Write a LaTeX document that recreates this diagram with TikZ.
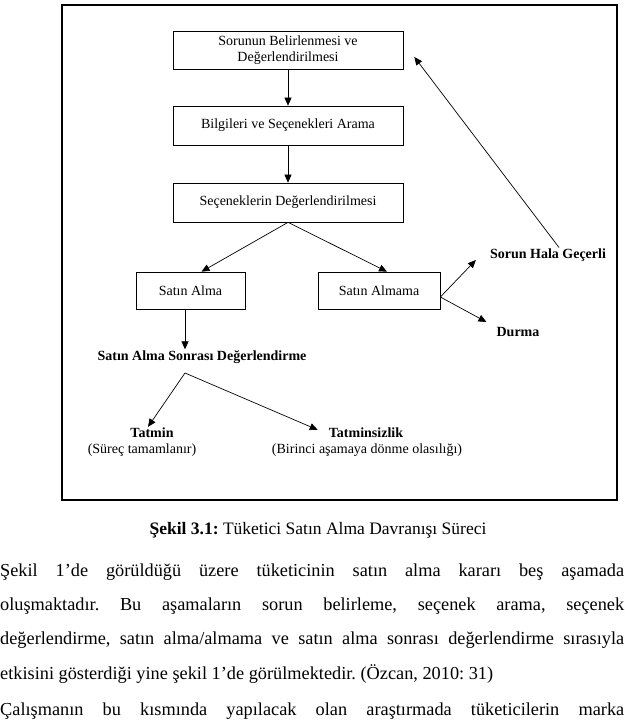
\documentclass[tikz,border=0pt]{standalone}
\usepackage{fontspec}
\setmainfont{Liberation Serif}
\frenchspacing
\usetikzlibrary{arrows.meta,calc}
\tikzset{
	kutu/.style={draw, line width=0.7pt, align=center, inner sep=0pt, font=\fontsize{14}{16}\selectfont},
	etiket/.style={font=\bfseries\fontsize{14}{16}\selectfont, inner sep=1pt},
	aciklama/.style={font=\fontsize{14}{16}\selectfont, inner sep=1pt},
	ok/.style={line width=0.7pt, -{Triangle[length=8pt,width=7pt]}},
	satir/.style={anchor=west, inner sep=0pt, font=\fontsize{18.3}{22}\selectfont}
}

\begin{document}
\begin{tikzpicture}[x=1pt,y=-1pt]
			%%%%% START %%%%%
			\useasboundingbox (0,0) rectangle (624,722);
			
			\draw[line width=1.3pt] (62,5) rectangle (617,500);
			
			\node[kutu, minimum width=230pt, minimum height=38pt] (sorun) at (288,50) {Sorunun Belirlenmesi ve\\Değerlendirilmesi};
			\node[kutu, minimum width=230pt, minimum height=39pt] (bilgi) at (288,125.5) {Bilgileri ve Seçenekleri Arama};
			\node[kutu, minimum width=230pt, minimum height=39pt] (deger) at (288,202.5) {Seçeneklerin Değerlendirilmesi};
			
			\node[kutu, minimum width=109pt, minimum height=37pt] (alma) at (190.5,290.5) {Satın Alma};
			\node[kutu, minimum width=122pt, minimum height=37pt] (almama) at (379,290.5) {Satın Almama};
			
			\node[etiket] (hala) at (548,255) {Sorun Hala Geçerli};
			\node[etiket] (durma) at (518,332) {Durma};
			\node[etiket] (sonra) at (202,357) {Satın Alma Sonrası Değerlendirme};
			\coordinate (ayrim) at (185,373);
			
			\node[etiket] (tatmin) at (152,433) {Tatmin};
			\node[aciklama] (surec) at (142,450) {(Süreç tamamlanır)};
			\node[etiket] (tatminsiz) at (366,433) {Tatminsizlik};
			\node[aciklama] (donme) at (367,450) {(Birinci aşamaya dönme olasılığı)};
			
			\draw[ok] (sorun) -- (bilgi);
			\draw[ok] (bilgi) -- (deger);
			\draw[ok] (deger.south) -- ([xshift=11pt]alma.north);
			\draw[ok] (deger.south) -- ([xshift=8pt]almama.north);
			\draw[ok] ([xshift=-5.5pt]alma.south) -- ([xshift=-17pt]sonra.north);
			\draw[ok] ([yshift=-6.5pt]almama.east) -- ([xshift=-13pt,yshift=-5pt]hala.west);
			\draw[ok] ([yshift=-6.5pt]almama.east) -- ([xshift=-9pt,yshift=10pt]durma.west);
			\draw[ok] ([xshift=11pt]hala.north) -- ([xshift=11pt,yshift=-7pt]sorun.east);
			\draw[ok] (ayrim) -- ([xshift=-4pt]tatmin.north);
			\draw[ok] (ayrim) -- ([xshift=-10pt,yshift=-3pt]tatminsiz.north west);
			
			\node[font=\fontsize{17.5}{20}\selectfont, inner sep=0pt] (sekil) at (318,530) {\textbf{Şekil 3.1:} Tüketici Satın Alma Davranışı Süreci};
			
			\node[satir] (satir1) at (0,572) {\makebox[624pt][s]{Şekil 1’de görüldüğü üzere tüketicinin satın alma kararı beş aşamada}};
			\node[satir] (satir2) at (0,606) {\makebox[624pt][s]{oluşmaktadır. Bu aşamaların sorun belirleme, seçenek arama, seçenek}};
			\node[satir] (satir3) at (0,640) {\makebox[624pt][s]{değerlendirme, satın alma/almama ve satın alma sonrası değerlendirme sırasıyla}};
			\node[satir] (satir4) at (0,674) {etkisini gösterdiği yine şekil 1’de görülmektedir. (Özcan, 2010: 31)};
			\node[satir] (satir5) at (0,711) {\makebox[624pt][s]{Çalışmanın bu kısmında yapılacak olan araştırmada tüketicilerin marka}};
			
			%%%%% END %%%%%
\end{tikzpicture}
\end{document}
